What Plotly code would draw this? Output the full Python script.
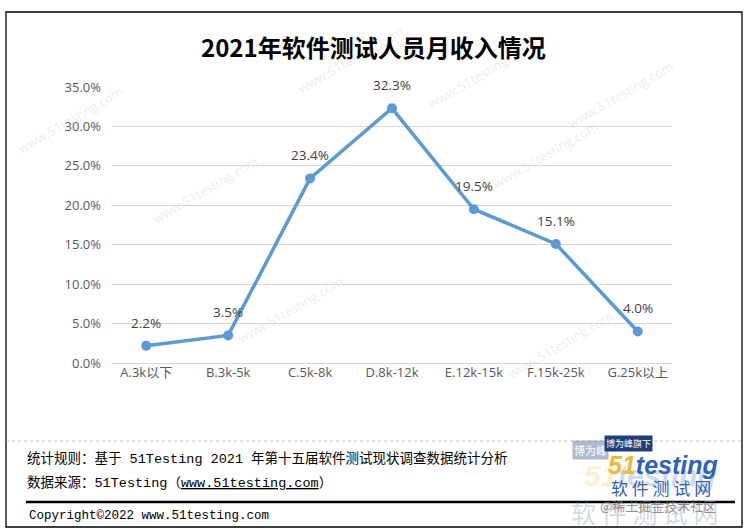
import plotly.graph_objects as go

categories = ["A.3k以下", "B.3k-5k", "C.5k-8k", "D.8k-12k", "E.12k-15k", "F.15k-25k", "G.25k以上"]
values = [2.2, 3.5, 23.4, 32.3, 19.5, 15.1, 4.0]
y_ticks = [0, 5, 10, 15, 20, 25, 30, 35]
y_tick_labels = [f"{v:.1f}%" for v in y_ticks]

title_text = "<b>2021年软件测试人员月收入情况</b>"
note1 = "统计规则：基于 51Testing 2021 年第十五届软件测试现状调查数据统计分析"
note2 = "数据来源：51Testing（<u>www.51testing.com</u>）"
copyright_text = "Copyright©2022 www.51testing.com"

W, H = 747, 530
L, R, T, B = 112, 75, 87, 167
PW, PH = W - L - R, H - T - B


def px(x):
    return (x - L) / PW


def py(y):
    return (H - B - y) / PH


CJK = "Noto Sans CJK SC"
LAT = "Open Sans, " + CJK


def pa(x, y, text, font, xanchor="center", **kw):
    d = dict(x=px(x), y=py(y), xref="paper", yref="paper", text=text, showarrow=False,
             xanchor=xanchor, yanchor="middle", font=font)
    d.update(kw)
    return d


fig = go.Figure()
fig.add_trace(go.Scatter(
    x=categories, y=values, mode="lines+markers",
    line=dict(color="#5B9BD5", width=3.5),
    marker=dict(color="#5B9BD5", size=10),
    hoverinfo="skip", showlegend=False, cliponaxis=False,
))

annotations = []
for c, v in zip(categories, values):
    annotations.append(dict(x=c, y=v, xref="x", yref="y", text=f"{v:.1f}%", showarrow=False,
                            xanchor="center", yanchor="middle",
                            yshift=23, font=dict(family=LAT, size=13.5, color="#404040")))

# watermarks
for (wx, wy) in [(205, 190), (70, 120), (545, 155), (480, 75), (290, 310), (560, 345), (350, 60), (620, 95)]:
    annotations.append(pa(wx, wy, "www.51testing.com",
                          dict(family="Open Sans", size=13, color="rgba(200,200,200,0.35)"), textangle=-30))

annotations += [
    pa(373, 46, title_text, dict(family=CJK, size=24, color="#000000")),
    pa(25, 458, note1, dict(family="Liberation Mono, " + CJK, size=13.5, color="#000000"), xanchor="left"),
    pa(25, 483, note2, dict(family="Liberation Mono, " + CJK, size=13.5, color="#000000"), xanchor="left"),
    pa(27, 516, copyright_text, dict(family="Liberation Mono", size=12.5, color="#000000"), xanchor="left"),
    # logo approximation
    pa(644, 512, "软 件 测 试 网", dict(family=CJK, size=25, color="rgba(150,170,195,0.45)")),
    pa(650, 475, "<b><i><span style='color:rgba(245,190,60,0.7)'>51</span>testing</i></b>",
       dict(family="Liberation Sans", size=30, color="rgba(110,150,210,0.35)")),
    pa(663, 465, "<b><i><span style='color:#F5B632'>51</span>testing</i></b>",
       dict(family="Liberation Sans", size=25, color="#2F62B8")),
    pa(661, 487, "软 件 测 试 网", dict(family=CJK, size=17, color="#2F62B8")),
    pa(590, 450, "博为峰", dict(family=CJK, size=11, color="#FFFFFF"), bgcolor="rgba(120,140,180,0.6)"),
    pa(628, 443, "博为峰旗下", dict(family=CJK, size=9, color="#FFFFFF"), bgcolor="#1F3F7A"),
    pa(658, 505, "@稀土掘金技术社区", dict(family=CJK, size=13, color="rgba(110,110,110,0.75)")),
]

shapes = [
    dict(type="rect", xref="paper", yref="paper", x0=px(6), x1=px(742), y0=py(527), y1=py(12),
         line=dict(color="#000000", width=1.3), fillcolor="rgba(0,0,0,0)", layer="above"),
    dict(type="line", xref="paper", yref="paper", x0=px(6), x1=px(742), y0=py(441), y1=py(441),
         line=dict(color="#BBBBBB", width=1, dash="dot")),
    dict(type="line", xref="paper", yref="paper", x0=px(26), x1=px(735), y0=py(502), y1=py(502),
         line=dict(color="#000000", width=2.5)),
]

fig.update_layout(
    width=W, height=H,
    margin=dict(l=L, r=R, t=T, b=B, autoexpand=False),
    paper_bgcolor="#FFFFFF", plot_bgcolor="#FFFFFF",
    annotations=annotations, shapes=shapes,
    xaxis=dict(type="category", showgrid=False, showline=False, zeroline=False, ticks="",
               tickfont=dict(family=LAT, size=13, color="#595959"),
               fixedrange=True),
    yaxis=dict(range=[0, 35], tickvals=y_ticks, ticktext=y_tick_labels, showgrid=True,
               gridcolor="#D9D9D9", gridwidth=1.3, zeroline=True, zerolinecolor="#D9D9D9",
               zerolinewidth=1.3, showline=False, ticks="",
               tickfont=dict(family=LAT, size=13, color="#595959"),
               ticklabelstandoff=10, fixedrange=True),
)

fig.write_html("out.html", config={"displayModeBar": False},
               post_script="document.body.style.margin='0';document.body.style.overflow='hidden';")
